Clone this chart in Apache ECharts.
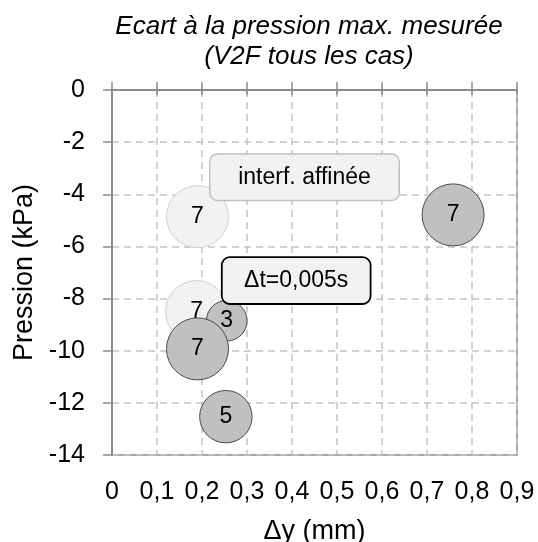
<!DOCTYPE html>
<html>
<head>
<meta charset="utf-8">
<script src="https://cdn.jsdelivr.net/npm/echarts@6/dist/echarts.min.js"></script>
<style>
html,body{margin:0;padding:0;background:#fff;}
#chart{width:538px;height:542px;}
</style>
</head>
<body>
<div id="chart"></div>
<script>
// ---- Data ----
var titleText = 'Ecart à la pression max. mesurée\n(V2F tous les cas)';
var xAxisName = 'Δy (mm)';
var yAxisName = 'Pression (kPa)';

// Series 1 (light bubbles)
var lightX = [0.19, 0.188];
var lightY = [-4.86, -8.50];
var lightSize = [7, 7];

// Series 2 (grey bubbles)
var greyX = [0.255, 0.19, 0.253, 0.758];
var greyY = [-8.85, -9.93, -12.53, -4.79];
var greySize = [3, 7, 5, 7];

// Callouts
var callout1Text = 'interf. affinée';
var callout2Text = 'Δt=0,005s';

var FONT = 'Liberation Sans';

function toPoints(xs, ys, ss) {
  return xs.map(function (x, i) { return [x, ys[i], ss[i]]; });
}
function bubbleSize(v) { return 62 * Math.sqrt(v[2] / 7); }

var axisColor = '#8a8a8a';

var option = {
  animation: false,
  backgroundColor: '#ffffff',
  title: {
    text: titleText,
    left: 309,
    textAlign: 'center',
    top: 12,
    padding: 0,
    textStyle: {
      fontFamily: FONT, fontSize: 26, fontStyle: 'italic', fontWeight: 'normal',
      color: '#000', lineHeight: 30
    }
  },
  grid: {
    left: 112, right: 21, top: 90, bottom: 87,
    outerBoundsMode: 'none', containLabel: false,
    show: true, borderColor: axisColor, borderWidth: 1.5, backgroundColor: 'transparent'
  },
  xAxis: [
    {
      type: 'value', position: 'top', min: 0, max: 0.9, interval: 0.1,
      axisLine: { show: true, onZero: false, lineStyle: { color: axisColor, width: 2 } },
      axisTick: { show: true, inside: false, length: 8, lineStyle: { color: axisColor, width: 1.5 } },
      axisLabel: { show: false },
      splitLine: { show: true, lineStyle: { color: '#c4c4c4', width: 1.5, type: [7, 5] } }
    },
    {
      type: 'value', position: 'top', min: 0, max: 0.9, interval: 0.1,
      axisLine: { show: false, onZero: false },
      axisTick: { show: true, inside: true, length: 5, lineStyle: { color: axisColor, width: 1.5 } },
      axisLabel: { show: false },
      splitLine: { show: false }
    },
    {
      type: 'value', position: 'bottom', min: 0, max: 0.9, interval: 0.1,
      name: xAxisName, nameLocation: 'middle', nameGap: 63,
      nameTextStyle: { fontFamily: FONT, fontSize: 27, color: '#000' },
      axisLine: { show: false, onZero: false },
      axisTick: { show: false },
      axisLabel: {
        show: true, margin: 25, fontFamily: FONT, fontSize: 25, color: '#000',
        formatter: function (v) { return v === 0 ? '0' : v.toFixed(1).replace('.', ','); }
      },
      splitLine: { show: false }
    }
  ],
  yAxis: [
    {
      type: 'value', min: -14, max: 0, interval: 2,
      name: yAxisName, nameLocation: 'middle', nameGap: 73, nameRotate: 90,
      nameTextStyle: { fontFamily: FONT, fontSize: 27, color: '#000' },
      axisLine: { show: true, onZero: false, lineStyle: { color: axisColor, width: 2 } },
      axisTick: { show: true, inside: false, length: 9, lineStyle: { color: axisColor, width: 1.5 } },
      axisLabel: { show: true, margin: 27, fontFamily: FONT, fontSize: 25, color: '#000' },
      splitLine: { show: true, lineStyle: { color: '#c4c4c4', width: 1.5, type: [7, 5] } }
    }
  ],
  series: [
    {
      type: 'scatter', name: 'light', xAxisIndex: 0, yAxisIndex: 0,
      data: toPoints(lightX, lightY, lightSize),
      symbolSize: bubbleSize,
      itemStyle: { color: '#f2f2f2', borderColor: '#cfcfcf', borderWidth: 1, opacity: 1 },
      label: {
        show: true, position: 'inside', fontFamily: FONT, fontSize: 23, color: '#000',
        formatter: function (p) { return String(p.value[2]); }
      },
      markPoint: {
        symbol: 'circle', symbolSize: 2,
        silent: true,
        itemStyle: { color: 'rgba(0,0,0,0)', borderWidth: 0 },
        data: [
          {
            name: 'c1',
            coord: [lightX[0], lightY[0]],
            label: {
              show: true, position: 'inside', offset: [107, -39.5],
              formatter: callout1Text,
              fontFamily: FONT, fontSize: 23, color: '#000',
              backgroundColor: '#f2f2f2', borderColor: '#c0c0c0', borderWidth: 1.5, borderRadius: 7,
              width: 188, height: 45, lineHeight: 45, padding: 0, align: 'center', verticalAlign: 'middle'
            }
          },
          {
            name: 'c2',
            coord: [lightX[1], lightY[1]],
            label: {
              show: true, position: 'inside', offset: [99.6, -31],
              formatter: callout2Text,
              fontFamily: FONT, fontSize: 23, color: '#000',
              backgroundColor: '#f2f2f2', borderColor: '#000000', borderWidth: 1.8, borderRadius: 7,
              width: 147, height: 45, lineHeight: 45, padding: 0, align: 'center', verticalAlign: 'middle'
            }
          }
        ]
      },
      z: 3
    },
    {
      type: 'scatter', name: 'grey', xAxisIndex: 0, yAxisIndex: 0,
      data: toPoints(greyX, greyY, greySize),
      symbolSize: bubbleSize,
      itemStyle: { color: '#c0c0c0', borderColor: '#4a4a4a', borderWidth: 1, opacity: 1 },
      label: {
        show: true, position: 'inside', fontFamily: FONT, fontSize: 23, color: '#000',
        formatter: function (p) { return String(p.value[2]); }
      },
      z: 4
    }
  ]
};

var chart = echarts.init(document.getElementById('chart'), null, { renderer: 'canvas' });
chart.setOption(option);
</script>
</body>
</html>
